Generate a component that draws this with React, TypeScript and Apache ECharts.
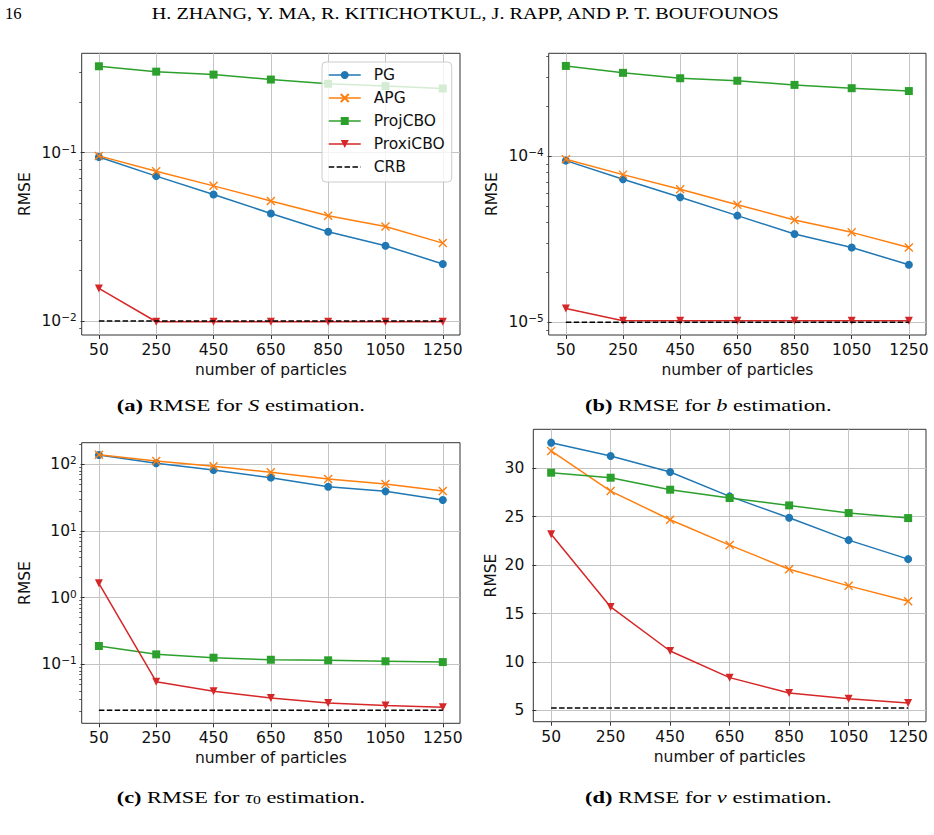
import React, { useEffect, useRef } from 'react';
import * as echarts from 'echarts';

// Shared x values (number of particles) and tick positions
const particles = [50, 250, 450, 650, 850, 1050, 1250];
const xTicks = [50, 250, 450, 650, 850, 1050, 1250];
const methodNames = ['PG', 'APG', 'ProjCBO', 'ProxiCBO', 'CRB'];

// (a) RMSE for S estimation
const sPG = [0.094, 0.0724, 0.0564, 0.0435, 0.0339, 0.028, 0.0218];
const sAPG = [0.0955, 0.0775, 0.0634, 0.0516, 0.0421, 0.0364, 0.029];
const sProjCBO = [0.325, 0.302, 0.29, 0.271, 0.256, 0.248, 0.24];
const sProxiCBO = [0.0156, 0.0099, 0.0099, 0.0099, 0.0099, 0.0099, 0.0099];
const sCRB = [0.01, 0.01, 0.01, 0.01, 0.01, 0.01, 0.01];
const sTicks = [0.01, 0.1];
const sMinorTicks = [0.009, 0.02, 0.03, 0.04, 0.05, 0.06, 0.07, 0.08, 0.09, 0.2, 0.3];

// (b) RMSE for b estimation
const bPG = [9.41e-5, 7.27e-5, 5.66e-5, 4.39e-5, 3.4e-5, 2.82e-5, 2.22e-5];
const bAPG = [9.59e-5, 7.75e-5, 6.32e-5, 5.11e-5, 4.13e-5, 3.48e-5, 2.82e-5];
const bProjCBO = [3.5e-4, 3.18e-4, 2.95e-4, 2.85e-4, 2.69e-4, 2.57e-4, 2.47e-4];
const bProxiCBO = [1.21e-5, 1.02e-5, 1.02e-5, 1.02e-5, 1.02e-5, 1.02e-5, 1.02e-5];
const bCRB = [1e-5, 1e-5, 1e-5, 1e-5, 1e-5, 1e-5, 1e-5];
const bTicks = [1e-5, 1e-4];
const bMinorTicks = [9e-6, 2e-5, 3e-5, 4e-5, 5e-5, 6e-5, 7e-5, 8e-5, 9e-5, 2e-4, 3e-4, 4e-4];

// (c) RMSE for tau_0 estimation
const tPG = [138, 103.5, 82.2, 63.1, 46.2, 39.3, 29.1];
const tAPG = [139, 112, 93.3, 75.9, 60.3, 50.7, 39.8];
const tProjCBO = [0.188, 0.141, 0.1256, 0.117, 0.1148, 0.111, 0.108];
const tProxiCBO = [1.64, 0.0548, 0.0393, 0.0312, 0.0263, 0.024, 0.0226];
const tCRB = [0.0204, 0.0204, 0.0204, 0.0204, 0.0204, 0.0204, 0.0204];
const tTicks = [0.1, 1, 10, 100];
const tMinorTicks = [
  0.02, 0.03, 0.04, 0.05, 0.06, 0.07, 0.08, 0.09,
  0.2, 0.3, 0.4, 0.5, 0.6, 0.7, 0.8, 0.9,
  2, 3, 4, 5, 6, 7, 8, 9,
  20, 30, 40, 50, 60, 70, 80, 90, 200,
];

// (d) RMSE for v estimation
const vPG = [32.65, 31.27, 29.62, 27.1, 24.89, 22.58, 20.62];
const vAPG = [31.79, 27.65, 24.69, 22.07, 19.58, 17.86, 16.27];
const vProjCBO = [29.55, 29.03, 27.79, 26.93, 26.17, 25.38, 24.86];
const vProxiCBO = [23.2, 15.68, 11.13, 8.38, 6.79, 6.2, 5.75];
const vCRB = [5.24, 5.24, 5.24, 5.24, 5.24, 5.24, 5.24];
const vTicks = [5, 10, 15, 20, 25, 30];

const SANS = 'DejaVu Sans';
const SERIF = 'Liberation Serif';
const FS = 15.5;
const TEXT = '#111111';
const SPINE = '#333333';
const GRIDLINE = '#c4c4c4';

const X_MARK = 'path://M0,0L10,10M0,10L10,0';

const methodStyle: Record<string, any> = {
  PG: { color: '#1f77b4', symbol: 'circle', symbolRotate: 0 },
  APG: { color: '#ff7f0e', symbol: X_MARK, symbolRotate: 0 },
  ProjCBO: { color: '#2ca02c', symbol: 'rect', symbolRotate: 0 },
  ProxiCBO: { color: '#d62728', symbol: 'triangle', symbolRotate: 180 },
  CRB: { color: '#000000', symbol: 'circle', symbolRotate: 0 },
};

function logLabel(v: number): string {
  const e = Math.round(Math.log10(v));
  return `{b|10}{s|${e < 0 ? '\u2212' : ''}${Math.abs(e)}}`;
}

const plainNumber = (v: number) => String(v);

const logRich = {
  b: { fontFamily: SANS, fontSize: FS, color: TEXT },
  s: { fontFamily: SANS, fontSize: 10.5, color: TEXT, padding: [0, 0, 8, 0] },
};

function xAxisFor(gridIndex: number) {
  return {
    type: 'value',
    gridIndex,
    min: -10,
    max: 1310,
    name: 'number of particles',
    nameLocation: 'middle',
    nameGap: 27,
    nameTextStyle: { fontFamily: SANS, fontSize: FS, color: TEXT },
    axisLine: { show: false },
    axisTick: { show: true, length: 4, customValues: xTicks, lineStyle: { color: SPINE, width: 1 } },
    axisLabel: {
      customValues: xTicks,
      formatter: plainNumber,
      margin: 7,
      fontFamily: SANS,
      fontSize: FS,
      color: TEXT,
    },
    splitLine: { show: true, lineStyle: { color: GRIDLINE, width: 1 } },
  };
}

function logYAxis(gridIndex: number, min: number, max: number, ticks: number[], nameGap: number) {
  return {
    type: 'log',
    logBase: 10,
    gridIndex,
    min,
    max,
    name: 'RMSE',
    nameLocation: 'middle',
    nameGap,
    nameTextStyle: { fontFamily: SANS, fontSize: FS, color: TEXT },
    axisLine: { show: false },
    axisTick: { show: true, length: 4, customValues: ticks, lineStyle: { color: SPINE, width: 1 } },
    axisLabel: { customValues: ticks, margin: 5, formatter: logLabel, rich: logRich, color: TEXT },
    splitLine: { show: true, lineStyle: { color: GRIDLINE, width: 1 } },
  };
}

function minorYAxis(gridIndex: number, min: number, max: number, minors: number[]) {
  return {
    type: 'log',
    logBase: 10,
    gridIndex,
    min,
    max,
    position: 'left',
    axisLine: { show: false },
    axisLabel: { show: false },
    splitLine: { show: false },
    axisTick: { show: true, length: 2.5, customValues: minors, lineStyle: { color: SPINE, width: 0.8 } },
  };
}

function panelSeries(panel: number, values: number[][]) {
  return methodNames.map((name, k) => {
    const st = methodStyle[name];
    const isCRB = name === 'CRB';
    return {
      type: 'line',
      name,
      xAxisIndex: panel,
      yAxisIndex: panel,
      data: particles.map((x, i) => [x, values[k][i]]),
      symbol: st.symbol,
      symbolRotate: st.symbolRotate,
      symbolSize: 8,
      showSymbol: !isCRB,
      lineStyle: isCRB
        ? { color: '#000000', width: 1.5, type: [5.5, 2.4] }
        : { color: st.color, width: 1.5 },
      itemStyle: isCRB
        ? { color: 'rgba(0,0,0,0)', borderWidth: 0 }
        : name === 'APG'
          ? { color: st.color, borderColor: st.color, borderWidth: 1.4 }
          : { color: st.color },
      emphasis: { disabled: true },
      silent: true,
      z: 2 + k * 0.1,
    };
  });
}

function measure(font: string, text: string): number {
  const ctx = document.createElement('canvas').getContext('2d');
  if (!ctx) return 0;
  ctx.font = font;
  return ctx.measureText(text).width;
}

const CAP = 17;
const captionRich = {
  b: { fontFamily: SERIF, fontSize: CAP, fontWeight: 'bold', fill: '#000' },
  i: { fontFamily: SERIF, fontSize: CAP, fontStyle: 'italic', fill: '#000' },
  sub: { fontFamily: SERIF, fontSize: 12, fill: '#000', padding: [7, 0, 0, 0] },
};

function caption(label: string, symbol: string, sub: string | null, x: number, y: number, width: number) {
  const reg = `${CAP}px "${SERIF}"`;
  let w =
    measure(`bold ${reg}`, `(${label})`) +
    measure(reg, ' RMSE for ') +
    measure(`italic ${reg}`, symbol) +
    measure(reg, ' estimation.');
  if (sub) w += measure(`12px "${SERIF}"`, sub);
  const text = `{b|(${label})} RMSE for {i|${symbol}}${sub ? `{sub|${sub}}` : ''} estimation.`;
  return {
    type: 'text',
    x,
    y,
    scaleX: w > 0 ? width / w : 1,
    style: {
      text,
      rich: captionRich,
      fontFamily: SERIF,
      fontSize: CAP,
      fill: '#000',
      align: 'left',
      verticalAlign: 'middle',
    },
    silent: true,
  };
}

function plainText(text: string, x: number, y: number, width: number) {
  const w = measure(`${CAP}px "${SERIF}"`, text);
  return {
    type: 'text',
    x,
    y,
    scaleX: w > 0 ? width / w : 1,
    style: { text, fontFamily: SERIF, fontSize: CAP, fill: '#000', align: 'left', verticalAlign: 'middle' },
    silent: true,
  };
}

export default function App() {
  const ref = useRef<HTMLDivElement>(null);

  useEffect(() => {
    if (!ref.current) return;
    const chart = echarts.init(ref.current, undefined, { renderer: 'svg' });

    const gridBase = { show: true, borderColor: SPINE, borderWidth: 1, backgroundColor: 'transparent', containLabel: false };

    const option = {
      animation: false,
      backgroundColor: '#ffffff',
      grid: [
        { ...gridBase, left: 81.7, top: 53.3, width: 378.3, height: 281.7 },
        { ...gridBase, left: 548.7, top: 53.3, width: 377.3, height: 281.7 },
        { ...gridBase, left: 81.7, top: 442.7, width: 378.3, height: 280.6 },
        { ...gridBase, left: 533.3, top: 429.3, width: 392.7, height: 292.4 },
      ],
      xAxis: [xAxisFor(0), xAxisFor(1), xAxisFor(2), xAxisFor(3)],
      yAxis: [
        logYAxis(0, 0.00826, 0.388, sTicks, 49),
        logYAxis(1, 8.38e-6, 4.17e-4, bTicks, 49),
        logYAxis(2, 0.01303, 211, tTicks, 49),
        {
          type: 'value',
          gridIndex: 3,
          min: 3.83,
          max: 34.03,
          name: 'RMSE',
          nameLocation: 'middle',
          nameGap: 34,
          nameTextStyle: { fontFamily: SANS, fontSize: FS, color: TEXT },
          axisLine: { show: false },
          axisTick: { show: true, length: 4, customValues: vTicks, lineStyle: { color: SPINE, width: 1 } },
          axisLabel: {
            customValues: vTicks,
            formatter: plainNumber,
            margin: 9,
            fontFamily: SANS,
            fontSize: FS,
            color: TEXT,
          },
          splitLine: { show: true, lineStyle: { color: GRIDLINE, width: 1 } },
        },
        minorYAxis(0, 0.00826, 0.388, sMinorTicks),
        minorYAxis(1, 8.38e-6, 4.17e-4, bMinorTicks),
        minorYAxis(2, 0.01303, 211, tMinorTicks),
      ],
      legend: {
        data: methodNames,
        orient: 'vertical',
        left: 322,
        top: 62,
        itemWidth: 32,
        itemHeight: 10,
        itemGap: 7,
        padding: [5, 7, 7, 6],
        backgroundColor: 'rgba(255,255,255,0.8)',
        borderColor: '#cccccc',
        borderWidth: 1,
        borderRadius: 4,
        lineStyle: { width: 1.5 },
        textStyle: { fontFamily: SANS, fontSize: FS, color: TEXT, padding: [0, 0, 0, 8] },
        selectedMode: false,
        z: 10,
      },
      series: [
        ...panelSeries(0, [sPG, sAPG, sProjCBO, sProxiCBO, sCRB]),
        ...panelSeries(1, [bPG, bAPG, bProjCBO, bProxiCBO, bCRB]),
        ...panelSeries(2, [tPG, tAPG, tProjCBO, tProxiCBO, tCRB]),
        ...panelSeries(3, [vPG, vAPG, vProjCBO, vProxiCBO, vCRB]),
      ],
      graphic: [
        plainText('16', 5, 13.3, 16.7),
        plainText('H. ZHANG, Y. MA, R. KITICHOTKUL, J. RAPP, AND P. T. BOUFOUNOS', 151.7, 13.3, 630),
        caption('a', 'S', null, 116.7, 405, 248.3),
        caption('b', 'b', null, 585, 405, 246.7),
        caption('c', '\u03c4', '0', 116.7, 796.7, 248.3),
        caption('d', 'v', null, 585, 796.7, 246.7),
      ],
    };

    chart.setOption(option as any);
    return () => chart.dispose();
  }, []);

  return (
    <div
      ref={ref}
      style={{ position: 'absolute', left: 0, top: 0, width: 934, height: 835, background: '#ffffff' }}
    />
  );
}
